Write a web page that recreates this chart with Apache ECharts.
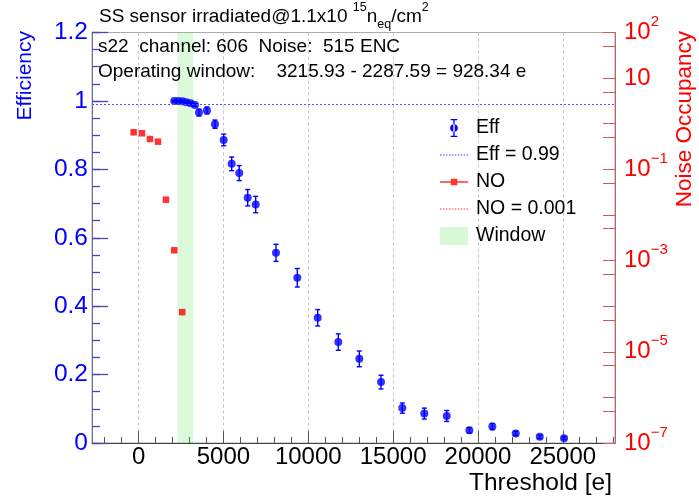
<!DOCTYPE html>
<html><head><meta charset="utf-8">
<script src="https://cdn.jsdelivr.net/npm/echarts@6/dist/echarts.min.js"></script>
<style>html,body{margin:0;padding:0;background:#fff}#c{width:699px;height:501px}</style>
</head><body><div id="c"></div>
<script>
// ---- data ----
const effX   = [2100, 2340, 2580, 2820, 3070, 3320, 3555, 4027, 4499, 5012, 5483, 5931, 6427, 6899, 8095, 9352, 10554, 11769, 13007, 14287, 15542, 16840, 18160, 19493, 20849, 22229, 23644, 25077];
const effY   = [1.0, 1.0, 0.999, 0.996, 0.993, 0.988, 0.966, 0.972, 0.932, 0.886, 0.816, 0.789, 0.717, 0.697, 0.556, 0.483, 0.366, 0.295, 0.246, 0.178, 0.102, 0.086, 0.079, 0.037, 0.048, 0.028, 0.018, 0.014];
const effErr = [0.002, 0.002, 0.002, 0.003, 0.003, 0.004, 0.010, 0.010, 0.012, 0.017, 0.020, 0.022, 0.024, 0.024, 0.025, 0.027, 0.024, 0.024, 0.023, 0.020, 0.015, 0.016, 0.016, 0.008, 0.009, 0.006, 0.005, 0.004];
const noX    = [-295, 195, 666, 1138, 1610, 2099, 2571];
const noY    = [0.649, 0.617, 0.463, 0.404, 0.0216, 0.00168, 0.000074];
const xTickLabels = [0, 5000, 10000, 15000, 20000, 25000];
const yTickLabels = [0, 0.2, 0.4, 0.6, 0.8, 1, 1.2];
const noLabelExponents = [2, 1, -1, -3, -5, -7];
const effThreshold = [0.99];
const noThreshold = [0.001];
const windowRange = [2287.59, 3215.93];
const xRange = [-2750, 28080];
const effRange = [0, 1.2];
const noRange = [1e-7, 100];
const sensorInfo = ['s22', '606', '515'];

const FONT = '"Liberation Sans", Arial, Helvetica, sans-serif';
const BLUE = '#0000ff', RED = '#ff0000';

const xMinorTicks = [];
for (let v = Math.ceil(xRange[0] / 1000) * 1000; v <= xRange[1]; v += 1000) xMinorTicks.push(v);
const yMinorTicks = [];
for (let k = 0; k <= 24; k++) yMinorTicks.push(+(k * 0.05).toFixed(2));
// secondary ticks of the log axis (at 5 x 10^n), expressed as exponents
const noHalfTicks = [];
for (let e = Math.log10(noRange[0]) + 1; e <= Math.log10(noRange[1]); e++) noHalfTicks.push(e - 1 + Math.log10(5));

const effData = effX.map((x, i) => [x, effY[i], effErr[i]]);
const noData = noX.map((x, i) => [x, noY[i]]);

const supMinus = e => (e < 0 ? '\u2212' + (-e) : String(e));

// dotted line icon for legend
let dotted = 'path://';
for (let i = 0; i < 28; i += 3) dotted += 'M' + i + ',0h1.6v1.2h-1.6z ';

const chart = echarts.init(document.getElementById('c'), null, {renderer: 'canvas'});
chart.setOption({
  animation: false,
  textStyle: {fontFamily: FONT},
  title: [
    {
      text: '{n|SS sensor irradiated@1.1x10 }{sup|15}{n|n}{sub|eq}{n|/cm}{sup|2}',
      left: 99, top: 1.5, padding: 0,
      textStyle: {
        fontWeight: 'normal',
        rich: {
          n: {fontSize: 19, lineHeight: 30, color: '#000', fontWeight: 'normal', fontFamily: FONT},
          sup: {fontSize: 12.5, lineHeight: 12, verticalAlign: 'top', color: '#000', fontWeight: 'normal', fontFamily: FONT},
          sub: {fontSize: 12.5, lineHeight: 12, verticalAlign: 'bottom', color: '#000', fontWeight: 'normal', fontFamily: FONT}
        }
      }
    },
    {
      text: sensorInfo[0] + '  channel: ' + sensorInfo[1] + '  Noise:  ' + sensorInfo[2] + ' ENC',
      left: 98, top: 36, padding: 0,
      textStyle: {fontSize: 19, lineHeight: 22, fontWeight: 'normal', color: '#000', fontFamily: FONT}
    },
    {
      text: 'Operating window:    ' + windowRange[1].toFixed(2) + ' - ' + windowRange[0].toFixed(2) + ' = ' + (windowRange[1] - windowRange[0]).toFixed(2) + ' e',
      left: 98, top: 61, padding: 0,
      textStyle: {fontSize: 19, lineHeight: 22, fontWeight: 'normal', color: '#000', fontFamily: FONT}
    }
  ],
  grid: {left: 92, right: 84, top: 32.5, bottom: 58, show: true, borderColor: '#aaaaaa', borderWidth: 1},
  legend: {
    orient: 'vertical', left: 440, top: 118, padding: 0,
    itemWidth: 28, itemHeight: 18, itemGap: 7, selectedMode: false,
    textStyle: {fontSize: 19.5, lineHeight: 20, color: '#000', fontFamily: FONT, padding: [0, 0, 0, 3]},
    data: [
      {name: 'Eff', icon: 'path://M11,1h6v1.2h-6z M13.4,1h1.2v16h-1.2z M11,15.8h6v1.2h-6z M14,5.6a3.4,3.4 0 1 0 0.001 0z'},
      {name: 'Eff = 0.99', icon: dotted},
      {name: 'NO', icon: 'path://M0,8.4h28v1.3h-28z M10.8,5.8h6.5v6.5h-6.5z'},
      {name: 'NO = 0.001', icon: dotted},
      {name: 'Window', icon: 'rect'}
    ]
  },
  xAxis: [
    {
      type: 'value', min: xRange[0], max: xRange[1], position: 'bottom',
      axisLine: {show: true, onZero: false, lineStyle: {color: '#444', width: 1}},
      axisTick: {show: true, inside: true, length: 12, customValues: xTickLabels, lineStyle: {color: '#555'}},
      axisLabel: {customValues: xTickLabels, fontSize: 24, color: '#000', margin: 2, fontFamily: FONT,
        formatter: v => String(v)},
      splitLine: {show: true, lineStyle: {type: [3, 3], color: '#c4c4c4', width: 1}}
    },
    {
      type: 'value', min: xRange[0], max: xRange[1], position: 'bottom',
      axisLine: {show: false, onZero: false},
      axisTick: {show: true, inside: true, length: 6, customValues: xMinorTicks, lineStyle: {color: '#555'}},
      axisLabel: {show: false},
      splitLine: {show: false}
    }
  ],
  yAxis: [
    {
      type: 'value', min: effRange[0], max: effRange[1], interval: 0.2, position: 'left',
      axisLine: {show: true, onZero: false, lineStyle: {color: '#6a6aa8'}},
      axisTick: {show: true, inside: true, length: 16, lineStyle: {color: '#4848b0', width: 1.3}},
      axisLabel: {color: BLUE, fontSize: 24.5, margin: 4, fontFamily: FONT,
        formatter: v => String(+(+v).toFixed(1))},
      splitLine: {show: false}
    },
    {
      type: 'log', logBase: 10, min: noRange[0], max: noRange[1], position: 'right',
      axisLine: {show: true, onZero: false, lineStyle: {color: '#d05a5a'}},
      axisTick: {show: true, inside: true, length: 12, lineStyle: {color: '#d05a5a'}},
      axisLabel: {
        margin: 9, color: RED,
        formatter: v => {
          const e = Math.round(Math.log10(v));
          if (!noLabelExponents.includes(e)) return '';
          if (e === 1) return '{b|10}';
          return '{b|10}{s|' + supMinus(e) + '}';
        },
        rich: {
          b: {fontSize: 24, lineHeight: 36, color: RED, fontFamily: FONT},
          s: {fontSize: 15, lineHeight: 14, verticalAlign: 'top', color: RED, fontFamily: FONT}
        }
      },
      splitLine: {show: false}
    },
    {
      // secondary tick marks for the log axis (exponent space)
      type: 'value', min: Math.log10(noRange[0]), max: Math.log10(noRange[1]), position: 'right',
      axisLine: {show: false, onZero: false},
      axisTick: {show: true, inside: true, length: 12, customValues: noHalfTicks, lineStyle: {color: '#d05a5a'}},
      axisLabel: {show: false},
      splitLine: {show: false}
    },
    {
      // minor tick marks of the efficiency axis
      type: 'value', min: effRange[0], max: effRange[1], position: 'left',
      axisLine: {show: false, onZero: false},
      axisTick: {show: true, inside: true, length: 8, customValues: yMinorTicks, lineStyle: {color: '#4848b0', width: 1.3}},
      axisLabel: {show: false},
      splitLine: {show: false}
    }
  ],
  graphic: [
    {type: 'text', x: 25, y: 31, rotation: Math.PI / 2,
      style: {text: 'Efficiency', fill: BLUE, font: '21px ' + FONT, align: 'right', verticalAlign: 'middle'}},
    {type: 'text', x: 685, y: 31, rotation: Math.PI / 2,
      style: {text: 'Noise Occupancy', fill: RED, font: '22.5px ' + FONT, align: 'right', verticalAlign: 'middle'}},
    {type: 'text', x: 612, y: 483,
      style: {text: 'Threshold [e]', fill: '#000', font: '24.5px ' + FONT, align: 'right', verticalAlign: 'middle'}}
  ],
  series: [
    {
      name: 'Eff = 0.99', type: 'line', data: [], symbol: 'none', xAxisIndex: 0, yAxisIndex: 0,
      itemStyle: {color: '#4444ff'}, lineStyle: {type: [2, 2], color: '#4444ff', width: 1},
      markLine: {symbol: 'none', silent: true, label: {show: false},
        lineStyle: {type: [2, 2], color: '#5050ff', width: 1},
        data: [{yAxis: effThreshold[0]}]}
    },
    {
      name: 'NO = 0.001', type: 'line', data: [], symbol: 'none', xAxisIndex: 0, yAxisIndex: 1,
      itemStyle: {color: '#ff3a3a'}, lineStyle: {type: [2, 2], color: '#ff3a3a', width: 1},
      markLine: {symbol: 'none', silent: true, label: {show: false},
        lineStyle: {type: [2, 2], color: '#f04848', width: 1},
        data: [{yAxis: noThreshold[0]}]}
    },
    {
      name: 'Eff', type: 'custom', xAxisIndex: 0, yAxisIndex: 0, data: effData, z: 2,
      itemStyle: {color: BLUE},
      encode: {x: 0, y: 1},
      renderItem: (params, api) => {
        const x = api.value(0), y = api.value(1), e = api.value(2);
        const top = api.coord([x, y + e]);
        const bot = api.coord([x, y - e]);
        const c = 2.5;
        const st = {stroke: BLUE, lineWidth: 1.4};
        return {type: 'group', children: [
          {type: 'line', shape: {x1: top[0], y1: top[1], x2: bot[0], y2: bot[1]}, style: st},
          {type: 'line', shape: {x1: top[0] - c, y1: top[1], x2: top[0] + c, y2: top[1]}, style: st},
          {type: 'line', shape: {x1: bot[0] - c, y1: bot[1], x2: bot[0] + c, y2: bot[1]}, style: st}
        ]};
      }
    },
    {
      name: 'Eff', type: 'scatter', xAxisIndex: 0, yAxisIndex: 0, data: effData, z: 3,
      symbol: 'circle', symbolSize: 8, itemStyle: {color: BLUE}
    },
    {
      name: 'NO', type: 'scatter', xAxisIndex: 0, yAxisIndex: 1, data: noData, z: 3,
      symbol: 'rect', symbolSize: 6.5, itemStyle: {color: RED}
    },
    {
      name: 'Window', type: 'line', data: [], xAxisIndex: 0, yAxisIndex: 0, z: 5,
      itemStyle: {color: 'rgba(60,220,60,0.2)'}, lineStyle: {color: 'rgba(60,220,60,0.2)'},
      markArea: {silent: true, itemStyle: {color: 'rgba(60,220,60,0.18)'},
        data: [[{xAxis: windowRange[0]}, {xAxis: windowRange[1]}]]}
    }
  ]
});
</script></body></html>
